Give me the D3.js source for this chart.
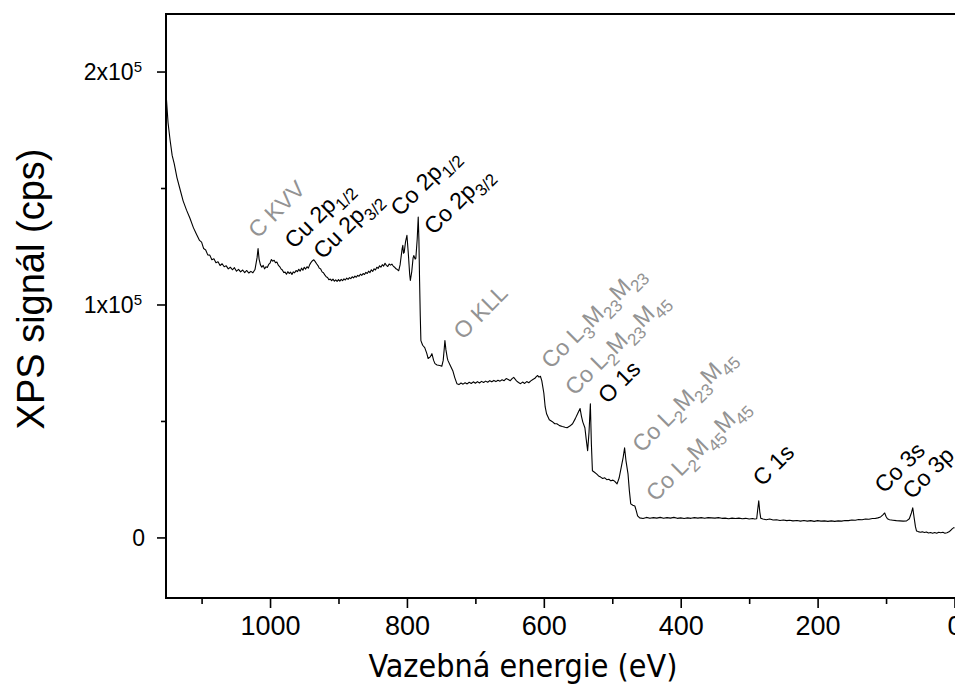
<!DOCTYPE html>
<html><head><meta charset="utf-8">
<script src="https://cdn.jsdelivr.net/npm/d3@7"></script>
<style>body{margin:0;background:#fff} svg{display:block}</style>
</head><body><svg id="c" width="955" height="688"></svg>
<script>
// ---- data ----
const energy = [1152,1149,1146,1143,1140,1136,1132,1127,1122,1117,1112,1108,1103,1100,1097,1094,1091,1088,1085,1082,1079,1076,1073,1070,1067,1064,1061,1058,1055,1052,1049,1046,1043,1040,1037,1034,1031,1028,1025,1022,1019,1017.5,1016,1014,1012,1010,1008,1006,1004,1002,1000,998,996,994,992,990,988,986,984,982,980,978,976,974,972,970,968,966,964,962,960,958,956,954,952,950,948,946,944,942,940,938,936,934,932,930,928,926,924,922,920,918,916,914,912,910,908,906,904,902,900,898,896,894,892,890,888,886,884,882,880,878,876,874,872,870,868,866,864,862,860,858,856,854,852,850,848,846,844,842,840,838,836,834,832,830,828,826,824,822,820,818,816,814,812,810,807,806,805,804,802,800,798,796,795,793,791,790,788,787,785,783.5,782.5,781.5,780.5,779.6,777,774,771,769,766,763.5,761,759,756,752,749,747,745.5,744.5,743,741,740,737,733,730,727,724,721,718,715,712,709,706,703,700,697,694,691,688,685,682,679,676,673,670,667,664,661,658,655,652,649,646,644,642,640,637,634,631,628,625,622,619,616,613,611,609,607,605,603,600,598,596,592,588,584,581,577,573,569,566,562,558,554,550,547,545,543,540,538,536,534,532,530.5,529,526,523,520,517,514,511,508,505,502,499,496,493,490,487,484,482,480,477,475,473,470,467,465,463,460,455,450,445,440,435,430,425,420,415,410,405,400,395,390,385,380,375,370,365,360,355,350,345,340,335,330,325,320,315,310,305,300,295,292,289,287.5,286,284.5,283,280,275,270,265,260,255,250,245,241,236,230,225,220,215,210,205,200,195,190,185,180,175,170,165,160,155,150,145,140,135,130,125,120,116,112,108,105,102,100,98,95,90,85,80,75,70,66,63,61,59,57,55.5,53,50,47,44,41,38,35,32,29,26,23,20,17,14,11,8,5,3,1,0];
const counts = [191000,178000,170500,164000,160500,154500,150000,144500,140500,137000,133000,130500,127500,126800,124000,123400,121300,121200,119200,119600,117900,118300,116700,117500,116200,116600,115300,116000,114900,115800,114300,115100,114000,114800,113700,114600,113500,114200,113600,115000,120000,124000,119500,117000,116000,116800,115300,116200,115900,117200,117800,119300,118600,119000,117900,118200,116900,116300,115300,114800,113700,113900,113000,114100,113300,113900,112900,114000,113600,114600,114100,115100,114300,115600,114700,116000,115200,116200,115600,117100,118100,118800,119200,118400,117500,116700,115600,115200,114000,113600,112700,111900,111600,110600,110900,110200,110900,110000,110600,109900,110700,110000,110800,110200,111000,110500,111300,110800,111500,111100,111900,111400,112200,111700,112500,112100,113000,112500,113300,112900,113800,113300,114300,113700,114900,114200,115300,114800,116000,115500,116600,116000,117100,116500,117700,116800,116300,117400,116900,117300,116500,116000,115300,115000,114500,117000,124000,125400,122000,122400,127000,129700,122000,113000,110300,114000,120000,121000,119500,119800,128000,137500,128000,110000,95000,84500,82500,81500,79000,76800,77500,78900,76000,74600,74000,73800,73500,76000,81000,84500,80500,77000,75900,74000,71600,68500,66000,65600,66300,65800,66400,65900,66600,66100,66800,66200,66900,66300,67000,66500,67100,66600,67300,66800,67400,66900,67500,67100,67700,67300,68200,67800,67300,68300,68700,68000,67200,66500,66000,66700,66100,66900,66400,67200,67800,68300,69000,69500,68800,69200,67300,62000,56000,53100,50500,49800,48800,48800,48000,47600,47300,47100,47800,48800,51000,53500,55300,52000,49500,47100,42000,37200,45000,57400,40000,28600,28000,27300,26400,25900,25300,25600,24800,25000,24300,24600,24000,23000,25500,30000,34500,38500,33000,27300,20000,14400,13800,13500,11500,9300,8400,8100,8600,8200,8500,8300,8600,8200,8500,8300,8600,8200,8400,8100,8400,8200,8500,8300,8500,8200,8500,8400,8300,8500,8200,8300,8000,8300,8100,8300,8000,8200,7900,8100,7900,8000,12000,15700,11000,8200,7900,7600,7900,7500,7600,7300,7500,7200,7400,7100,7300,7000,7300,7000,7200,6900,7200,7000,7100,6900,7100,6900,7100,7000,7300,7200,7500,7400,7700,7600,7900,7800,8100,8100,8400,8800,9600,10500,9000,8000,7600,7400,7200,7100,7000,7100,8000,10500,12700,8500,4500,2800,2500,2200,2400,2100,2300,1900,2100,1800,2100,1800,2200,2000,2200,1800,2000,2400,3200,3800,4200,4000];

const xTicks = [1000, 800, 600, 400, 200, 0];
const xMinorTicks = [1100, 900, 700, 500, 300, 100];
const yTicks = [0, 100000, 200000];
const yTickBase = ["0", "1x10", "2x10"];
const yTickExp = ["", "5", "5"];
const yMinorTicks = [50000, 150000];

// peak labels: [main text, subscript, main, subscript, ...]
const peakLabels = [
  ["C KVV"],
  ["Cu 2p", "1/2"],
  ["Cu 2p", "3/2"],
  ["Co 2p", "1/2"],
  ["Co 2p", "3/2"],
  ["O KLL"],
  ["Co L", "3", "M", "23", "M", "23"],
  ["Co L", "2", "M", "23", "M", "45"],
  ["O 1s"],
  ["Co L", "2", "M", "23", "M", "45"],
  ["Co L", "2", "M", "45", "M", "45"],
  ["C 1s"],
  ["Co 3s"],
  ["Co 3p"]
];
const peakLabelEnergy = [1018, 965, 923, 810, 761, 718, 590, 555, 507, 457, 437, 281, 103, 62];
const peakLabelCounts = [128000, 123500, 119000, 137500, 129500, 84500, 72000, 60500, 57000, 36000, 15000, 21500, 18500, 16000];
const peakLabelKind = ["auger","photo","photo","photo","photo","auger","auger","auger","photo","auger","auger","photo","photo","photo"];

// ---- drawing ----
const svg = d3.select("#c");
const L = 166, R = 954.5, T = 14, B = 598;
const x = d3.scaleLinear().domain([1152, 0]).range([L, R]);
const y = d3.scaleLinear().domain([-26000, 224700]).range([B, T]);

const pts = energy.map((e, i) => [e, counts[i]]);

svg.append("defs").append("clipPath").attr("id", "clip")
  .append("rect").attr("x", L).attr("y", T).attr("width", 960 - L).attr("height", B - T);

svg.append("path")
  .datum(pts)
  .attr("clip-path", "url(#clip)")
  .attr("fill", "none")
  .attr("stroke", "#000")
  .attr("stroke-width", 1.1)
  .attr("stroke-linejoin", "round")
  .attr("d", d3.line().x(d => x(d[0])).y(d => y(d[1])));

// frame
svg.append("path")
  .attr("d", `M${960},${T}H${L}V${B}H${960}`)
  .attr("fill", "none").attr("stroke", "#000").attr("stroke-width", 2);

// x axis
const gx = svg.append("g").attr("transform", `translate(0,${B})`);
gx.call(d3.axisBottom(x).tickValues(xTicks).tickSize(10).tickPadding(8).tickFormat(d3.format("d")));
gx.append("g").call(d3.axisBottom(x).tickValues(xMinorTicks).tickSize(6).tickFormat(""));
gx.selectAll(".domain").remove();
gx.selectAll("line").attr("stroke", "#000").attr("stroke-width", 1.6);
gx.selectAll("text").attr("font-family", "'Liberation Sans Narrow', 'Liberation Sans', sans-serif")
  .attr("font-size", 27).attr("fill", "#000");

// y axis
const gy = svg.append("g").attr("transform", `translate(${L},0)`);
gy.call(d3.axisLeft(y).tickValues(yTicks).tickSize(9).tickPadding(8).tickFormat(""));
gy.append("g").call(d3.axisLeft(y).tickValues(yMinorTicks).tickSize(5).tickFormat(""));
gy.selectAll(".domain").remove();
gy.selectAll("line").attr("stroke", "#000").attr("stroke-width", 1.6);
yTicks.forEach((v, i) => {
  const t = gy.append("text")
    .attr("x", yTickExp[i] ? -24 : -21).attr("y", y(v)).attr("dy", "0.36em")
    .attr("text-anchor", "end")
    .attr("font-family", "'Liberation Sans', Arial, sans-serif")
    .attr("font-size", 23).attr("fill", "#000");
  t.append("tspan").text(yTickBase[i]);
  if (yTickExp[i]) t.append("tspan").attr("dy", "-0.55em").attr("font-size", 15).text(yTickExp[i]);
});

// axis titles
svg.append("text")
  .attr("x", 523).attr("y", 677)
  .attr("text-anchor", "middle")
  .attr("font-family", "'DejaVu Sans Condensed', 'DejaVu Sans', sans-serif")
  .attr("font-size", 32).attr("fill", "#000")
  .text("Vazebná energie (eV)");

svg.append("text")
  .attr("transform", `translate(44,289) rotate(-90)`)
  .attr("text-anchor", "middle")
  .attr("font-family", "'Liberation Sans', Arial, sans-serif")
  .attr("font-size", 38).attr("fill", "#000")
  .text("XPS signál (cps)");

// peak labels
peakLabels.forEach((parts, i) => {
  const px = x(peakLabelEnergy[i]), py = y(peakLabelCounts[i]);
  const t = svg.append("text")
    .attr("transform", `translate(${px},${py}) rotate(-45)`)
    .attr("font-family", "'Liberation Sans', Arial, sans-serif")
    .attr("font-size", 23)
    .attr("fill", peakLabelKind[i] === "auger" ? "#939393" : "#000");
  parts.forEach((p, j) => {
    if (j % 2 === 0) {
      t.append("tspan").attr("dy", j === 0 ? 0 : -7).attr("font-size", 23).text(p);
    } else {
      t.append("tspan").attr("dy", 7).attr("font-size", 17).text(p);
    }
  });
});
</script></body></html>
